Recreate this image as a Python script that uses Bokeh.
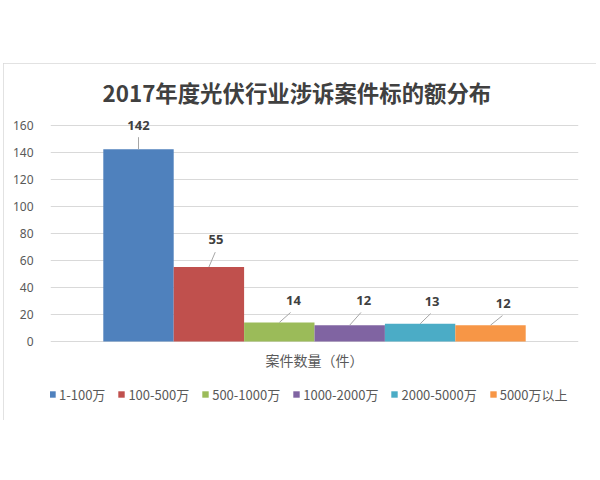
import numpy as np
from bokeh.plotting import figure
from bokeh.models import Range1d, FixedTicker, Legend, LegendItem, ColumnDataSource, Spacer, Label
from bokeh.layouts import column, row
from bokeh.embed import file_html
from bokeh.resources import INLINE
from bokeh.core.properties import value

# ---- data ----
title_text = "2017年度光伏行业涉诉案件标的额分布"
category_label = "案件数量（件）"
series = ["1-100万", "100-500万", "500-1000万", "1000-2000万", "2000-5000万", "5000万以上"]
counts = [142, 55, 14, 12, 13, 12]
y_ticks = [0, 20, 40, 60, 80, 100, 120, 140, 160]

# ---- styles / label placement (offsets from each bar, data units) ----
colors = ["#4F81BD", "#C0504D", "#9BBB59", "#8064A2", "#4BACC6", "#F79646"]
label_dx = [0.0, 0.10, 0.20, 0.20, 0.17, 0.18]
label_lift = [18.0, 20.0, 16.4, 18.4, 16.6, 16.1]
leader_dx = [0.0, 0.09, 0.16, 0.16, 0.15, 0.17]
leader_gap = 9.0

idx = np.arange(len(series), dtype=float)
vals = np.array(counts, dtype=float)
ly = vals + np.array(label_lift)

source = ColumnDataSource(dict(
    x=idx, top=vals, color=colors, name=series,
    lx=idx + np.array(label_dx), ly=ly, txt=[str(c) for c in counts],
    x0=idx + np.array(leader_dx), y0=ly - leader_gap, x1=idx, y1=vals,
))

# frame extends below zero to hold the category label and the legend
p = figure(width=593, height=357,
           x_range=Range1d(-1.25, len(series) - 1 + 1.25),
           y_range=Range1d(-53.3, 170),
           output_backend="svg", toolbar_location=None,
           min_border_left=47, min_border_right=18,
           min_border_top=48, min_border_bottom=7)

p.title.text = title_text
p.title.align = "left"
p.title.text_font = "Noto Sans CJK SC"
p.title.text_font_size = "22.4px"
p.title.text_font_style = "bold"
p.title.text_color = "#404040"
p.title.offset = 52
p.title.standoff = 7

p.outline_line_color = None
p.background_fill_color = "white"
p.border_fill_color = "white"
p.styles = {"outline": "1px solid #d9d9d9", "outline-offset": "-1px"}

r = p.vbar(x="x", top="top", bottom=0, width=1.0, fill_color="color",
           line_color=None, source=source)

p.segment(x0="x0", y0="y0", x1="x1", y1="y1", line_color="#a6a6a6",
          line_width=1, source=source)
p.text(x="lx", y="ly", text="txt", text_align="center", text_baseline="middle",
       text_font=value("Noto Sans"), text_font_size="13px", text_font_style="bold",
       text_color="#404040", source=source)

# grid
p.xgrid.visible = False
p.ygrid.ticker = FixedTicker(ticks=y_ticks)
p.ygrid.grid_line_color = "#d9d9d9"

# y axis
p.yaxis.ticker = FixedTicker(ticks=y_ticks)
p.yaxis.axis_line_color = None
p.yaxis.major_tick_line_color = None
p.yaxis.minor_tick_line_color = None
p.yaxis.major_tick_out = 0
p.yaxis.major_label_standoff = 17
p.yaxis.major_label_text_font = "Noto Sans"
p.yaxis.major_label_text_font_size = "12px"
p.yaxis.major_label_text_color = "#595959"

p.xaxis.visible = False

# category label under the bars
p.add_layout(Label(x=(len(series) - 1) / 2, y=-14, text=category_label,
                   text_align="center", text_baseline="middle",
                   text_font="Noto Sans CJK SC", text_font_size="14px",
                   text_color="#595959"))

legend = Legend(items=[LegendItem(label=s, renderers=[r], index=i) for i, s in enumerate(series)],
                orientation="horizontal", location=(-2, 9))
legend.glyph_width = 8
legend.glyph_height = 8
legend.label_standoff = 3
legend.spacing = 12
legend.padding = 0
legend.margin = 0
legend.label_height = 20
legend.label_text_font = "Noto Sans CJK SC"
legend.label_text_font_size = "13px"
legend.label_text_color = "#595959"
legend.border_line_color = None
legend.background_fill_alpha = 0
p.add_layout(legend, "center")

layout = column(Spacer(width=596, height=63), row(Spacer(width=3, height=357), p))
open("out.html", "w").write(file_html(layout, INLINE))
